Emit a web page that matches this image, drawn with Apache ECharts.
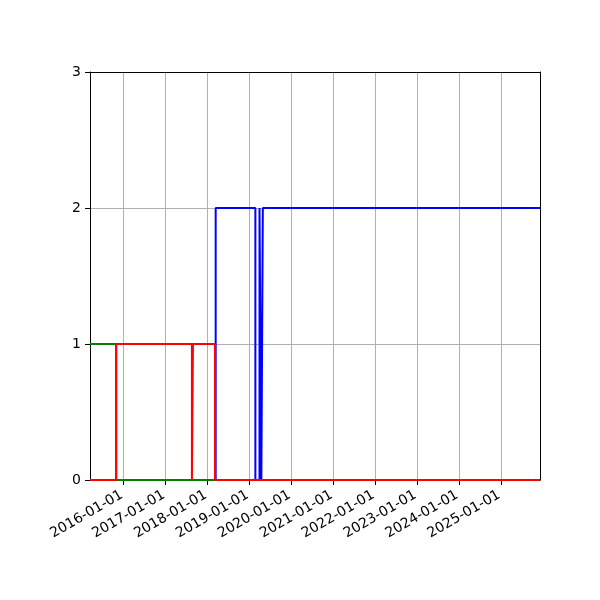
<!DOCTYPE html>
<html>
<head>
<meta charset="utf-8">
<script src="https://cdn.jsdelivr.net/npm/echarts@6/dist/echarts.min.js"></script>
<style>html,body{margin:0;padding:0;background:#fff}#c{width:600px;height:600px}</style>
</head>
<body>
<div id="c"></div>
<script>
const xStart = '2015-03-14';
const xEnd = '2025-12-07';
const yTicks = [0, 1, 2, 3];

const greenDates = ['2015-03-14', '2015-10-28', '2025-12-07'];
const greenValues = [1, 0, 0];

const redDates = ['2015-03-14', '2015-10-28', '2017-08-18', '2017-08-27', '2018-03-07', '2025-12-07'];
const redValues = [0, 1, 0, 1, 0, 0];

const blueDates = ['2015-03-14', '2018-03-13', '2019-02-22', '2019-03-30', '2019-04-15', '2019-04-28', '2025-12-07'];
const blueValues = [0, 2, 0, 2, 0, 2, 2];

function pairs(d, v) { return d.map((x, i) => [x, v[i]]); }
function pad(n) { return (n < 10 ? '0' : '') + n; }

const chart = echarts.init(document.getElementById('c'));
const font = 'DejaVu Sans';
const DAY = 86400000;
const frameAxis = { show: true, lineStyle: { color: '#000', width: 1 } };

chart.setOption({
  animation: false,
  grid: { left: 90, right: 60, top: 72, bottom: 120 },
  xAxis: [{
    type: 'time',
    min: xStart,
    max: xEnd,
    splitNumber: 10,
    minInterval: 365 * DAY,
    maxInterval: 366 * DAY,
    axisLine: { show: true, onZero: false, lineStyle: { color: '#000', width: 1 } },
    axisTick: { show: true, length: 5, lineStyle: { color: '#000', width: 1 } },
    splitLine: { show: true, lineStyle: { color: '#b0b0b0', width: 1 } },
    axisLabel: {
      rotate: 30,
      margin: 13,
      fontSize: 14,
      fontFamily: font,
      color: '#000',
      hideOverlap: false,
      padding: [0, 2, 0, 0],
      formatter: function (v) {
        const d = new Date(v);
        return d.getFullYear() + '-' + pad(d.getMonth() + 1) + '-' + pad(d.getDate());
      }
    }
  }, {
    type: 'time', position: 'top', min: xStart, max: xEnd,
    axisLine: { show: true, onZero: false, lineStyle: { color: '#000', width: 1 } },
    axisTick: { show: false }, axisLabel: { show: false }, splitLine: { show: false }
  }],
  yAxis: [{
    type: 'value',
    min: yTicks[0],
    max: yTicks[yTicks.length - 1],
    interval: 1,
    axisLine: { show: true, onZero: false, lineStyle: { color: '#000', width: 1 } },
    axisTick: { show: true, length: 5, lineStyle: { color: '#000', width: 1 } },
    splitLine: { show: true, lineStyle: { color: '#b0b0b0', width: 1 } },
    axisLabel: { margin: 9, fontSize: 14, fontFamily: font, color: '#000' }
  }, {
    type: 'value', position: 'right', min: yTicks[0], max: yTicks[yTicks.length - 1], interval: 1,
    axisLine: { show: true, onZero: false, lineStyle: { color: '#000', width: 1 } },
    axisTick: { show: false }, axisLabel: { show: false }, splitLine: { show: false }
  }],
  series: [
    { type: 'line', step: 'end', data: pairs(blueDates, blueValues), showSymbol: false, z: 2, lineStyle: { color: '#0000ff', width: 2 }, itemStyle: { color: '#0000ff' } },
    { type: 'line', step: 'end', data: pairs(greenDates, greenValues), showSymbol: false, z: 3, lineStyle: { color: '#008000', width: 2 }, itemStyle: { color: '#008000' } },
    { type: 'line', step: 'end', data: pairs(redDates, redValues), showSymbol: false, z: 4, lineStyle: { color: '#ff0000', width: 2 }, itemStyle: { color: '#ff0000' } }
  ]
});
</script>
</body>
</html>
